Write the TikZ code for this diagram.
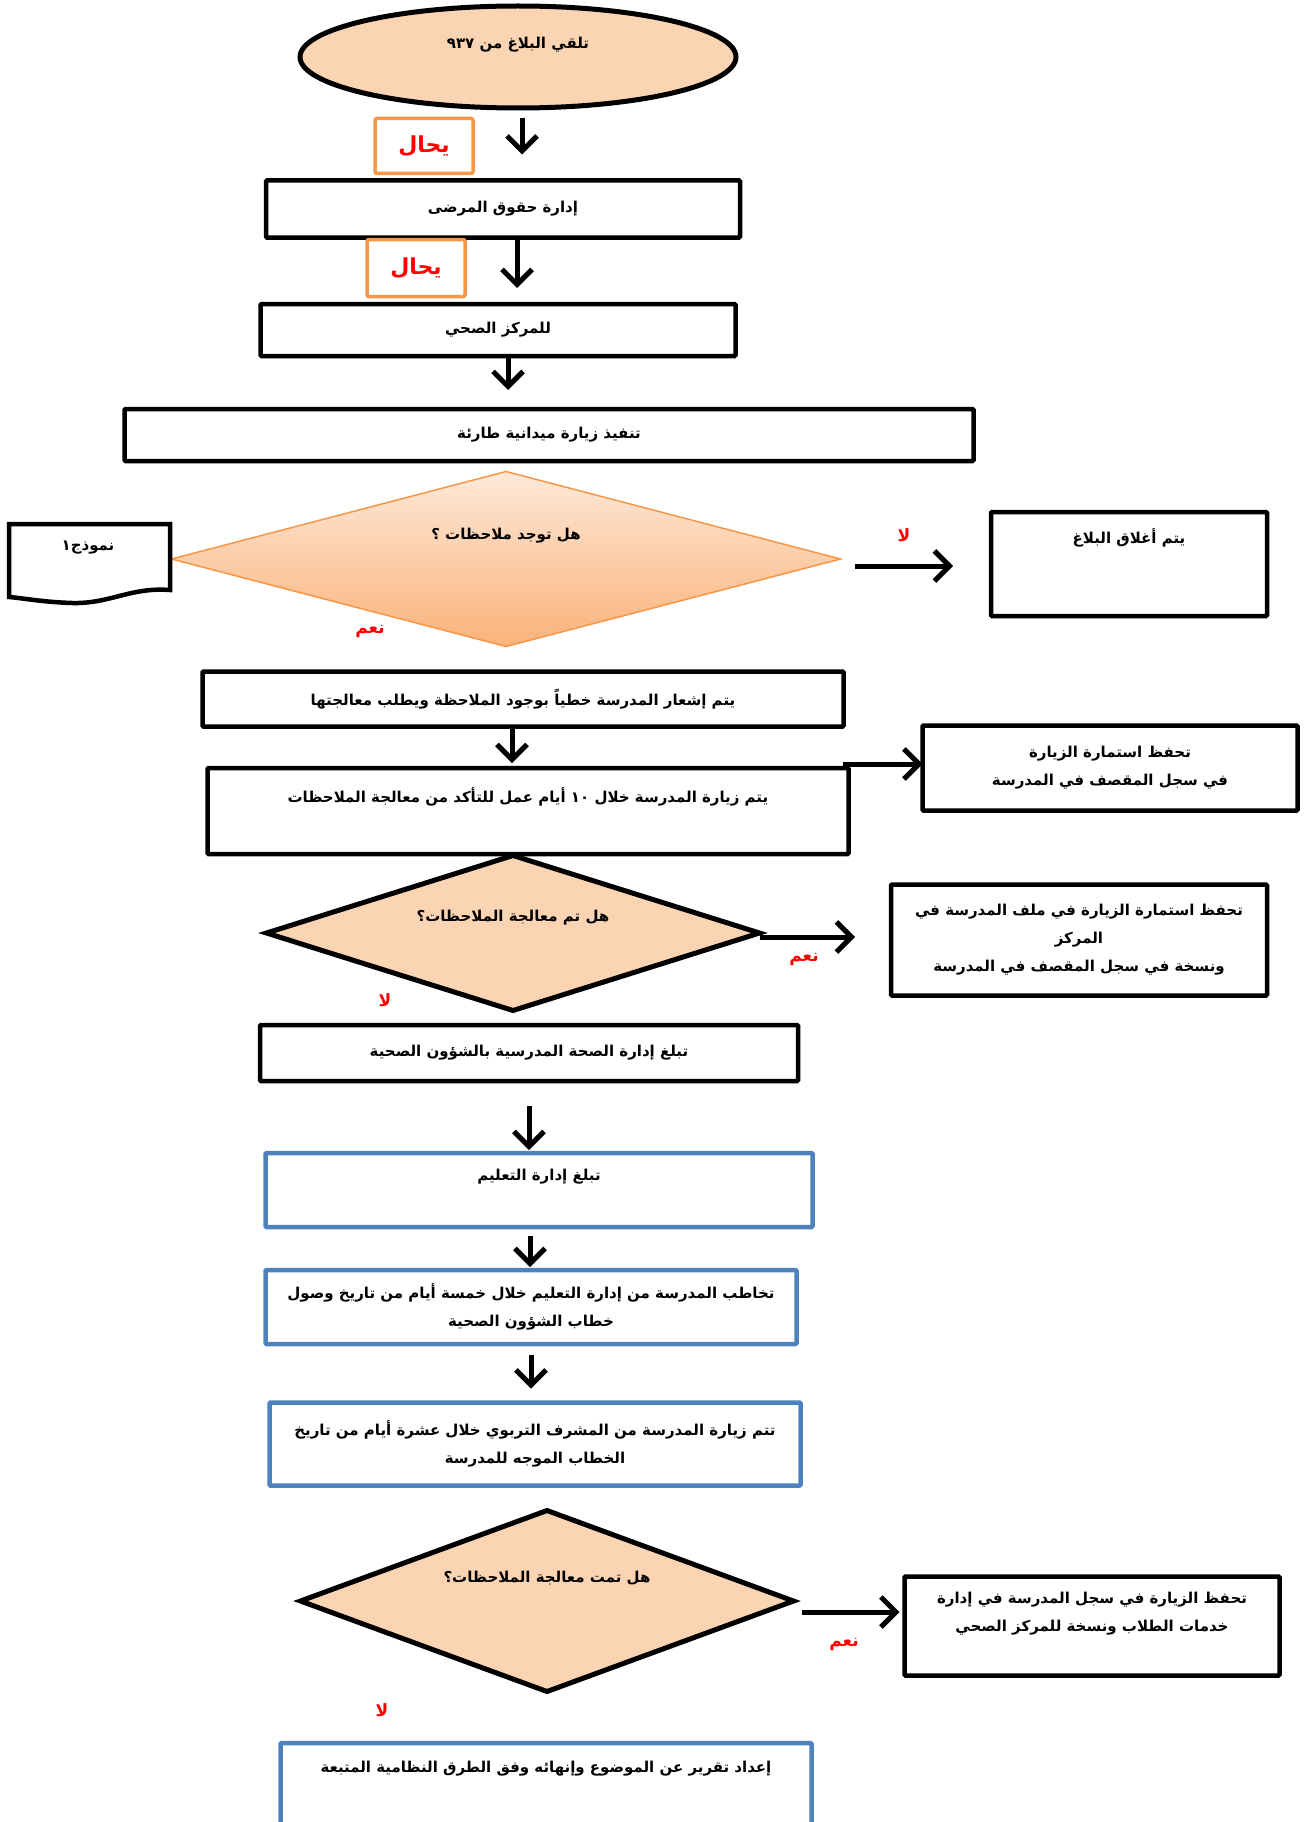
\documentclass[tikz,border=0pt]{standalone}
\usepackage{fontspec}
\newfontfamily\arabicfont[Script=Arabic]{DejaVu Sans}
\TeXXeTstate=1
\usetikzlibrary{shapes.geometric, arrows.meta, positioning}
\definecolor{peach}{HTML}{FBD4B4}
\definecolor{peachlight}{HTML}{FDE9D9}
\definecolor{peachdark}{HTML}{FAB27A}
\definecolor{orangeline}{HTML}{F79646}
\definecolor{blueline}{HTML}{4F81BD}
\newcommand{\artext}[1]{\beginR #1\endR}

\begin{document}
\begin{tikzpicture}[x=1pt, y=-1pt,
    every node/.style={font=\arabicfont\bfseries\fontsize{15}{28}\selectfont, inner sep=0, outer sep=0, align=center},
    blackbox/.style={draw=black, line width=4.5pt, rounded corners=1pt},
    bluebox/.style={draw=blueline, line width=4.5pt, rounded corners=1pt},
    referbox/.style={draw=orangeline, line width=3.5pt, rounded corners=2pt, text=red, font=\arabicfont\bfseries\fontsize{22}{24}\selectfont},
    decision/.style={diamond, draw=black, line width=5pt, fill=peach},
    flow/.style={line width=5pt, -{Straight Barb[length=15pt, width=30pt]}},
    answer/.style={text=red, font=\arabicfont\bfseries\fontsize{17}{18}\selectfont}]
  \useasboundingbox (0,0) rectangle (1313,1822);
  % top part
  \node[ellipse, draw, line width=5pt, fill=peach, minimum width=436, minimum height=102] (E) at (518,57) {};
  \node (Et) at ([yshift=12pt]E.center) {\artext{تلقي البلاغ من \beginL ٩٣٧\endL}};
  \node[blackbox, minimum width=474, minimum height=57] (B1) at (503,209) {\artext{إدارة حقوق المرضى}};
  \node[referbox, minimum width=98, minimum height=55] (R1) at (424,146) {\artext{يحال}};
  \node[blackbox, minimum width=475, minimum height=52] (B2) at (498,330) {\artext{للمركز الصحي}};
  \node[referbox, minimum width=98, minimum height=57] (R2) at (416,268) {\artext{يحال}};
  \node[blackbox, minimum width=849, minimum height=52] (B3) at (549,435) {\artext{تنفيذ زيارة ميدانية طارئة}};
  \draw[flow, shorten <=10pt, shorten >=26pt] ([xshift=4pt]E.south) -- ([xshift=4pt]E.south |- B1.north);
  \draw[flow, shorten >=16pt] ([xshift=14pt]B1.south) -- ([xshift=14pt]B1.south |- B2.north);
  \draw[flow, shorten >=19pt] ([xshift=10pt]B2.south) -- ([xshift=10pt]B2.south |- B3.north);
  % first question
  \node[diamond, draw=orangeline, line width=1.5pt, top color=peachlight, bottom color=peachdark, minimum width=669, minimum height=175] (D1) at (506,559) {};
  \node (D1t) at ([yshift=23pt]D1.center) {\artext{هل توجد ملاحظات ؟}};
  \draw[line width=4.5pt, fill=white] (9,524) -- (170,524) -- (170,590) .. controls (130,587) and (110,604) .. (72,603) .. controls (42,602) and (22,598) .. (9,597) -- cycle;
  \node (F1) at (88,548) {\artext{نموذج١}};
  \node[blackbox, minimum width=276, minimum height=104] (C) at (1129,564) {};
  \node (Ct) at ([yshift=26pt]C.center) {\artext{يتم أغلاق البلاغ}};
  \draw[flow, shorten <=14pt, shorten >=38pt] ([yshift=-7pt]D1.east) -- ([yshift=-7pt]D1.east -| C.west);
  \node[answer] (L1) at (904,535) {\artext{لا}};
  \node[answer] (Y1) at (370,631) {\artext{نعم}};
  % notify school
  \node[blackbox, minimum width=641, minimum height=55] (B4) at (523,699) {\artext{يتم إشعار المدرسة خطياً بوجود الملاحظة ويطلب معالجتها}};
  \node[blackbox, minimum width=641, minimum height=86] (B5) at (528,811) {};
  \node (B5t) at ([yshift=14pt]B5.center) {\artext{يتم زيارة المدرسة خلال \beginL ١٠\endL{} أيام عمل للتأكد من معالجة الملاحظات}};
  \draw[flow, shorten >=5pt] ([xshift=-11pt]B4.south) -- ([xshift=-11pt]B4.south |- B5.north);
  \node[blackbox, minimum width=375, minimum height=85] (K1) at (1110,768) {\artext{تحفظ استمارة الزيارة}\\\artext{في سجل المقصف في المدرسة}};
  \draw[flow] ([xshift=-6pt, yshift=4pt]B5.north east) -- ([yshift=4pt]B5.north east -| K1.west);
  % second question
  \node[decision, minimum width=493, minimum height=155] (D2) at (513,933) {};
  \node (D2t) at ([yshift=15pt]D2.center) {\artext{هل تم معالجة الملاحظات؟}};
  \node[blackbox, minimum width=376, minimum height=111] (K2) at (1079,940) {\artext{تحفظ استمارة الزيارة في ملف المدرسة في}\\\artext{المركز}\\\artext{ونسخة في سجل المقصف في المدرسة}};
  \draw[flow, shorten >=36pt] ([yshift=-4pt]D2.east) -- ([yshift=-4pt]D2.east -| K2.west);
  \node[answer] (Y2) at (804,959) {\artext{نعم}};
  \node[answer] (L2) at (385,1000) {\artext{لا}};
  \node[blackbox, minimum width=538, minimum height=56] (B6) at (529,1053) {\artext{تبلغ إدارة الصحة المدرسية بالشؤون الصحية}};
  % education department
  \node[bluebox, minimum width=547, minimum height=74] (B7) at (539,1190) {};
  \node (B7t) at ([yshift=13pt]B7.center) {\artext{تبلغ إدارة التعليم}};
  \node[bluebox, minimum width=531, minimum height=74] (B8) at (531,1307) {\artext{تخاطب المدرسة من إدارة التعليم خلال خمسة أيام من تاريخ وصول}\\\artext{خطاب الشؤون الصحية}};
  \node[bluebox, minimum width=531, minimum height=83] (B9) at (535,1444) {\artext{تتم زيارة المدرسة من المشرف التربوي خلال عشرة أيام من تاريخ}\\\artext{الخطاب الموجه للمدرسة}};
  \draw[flow, shorten <=25pt, shorten >=3pt] (B6.south) -- (B6.south |- B7.north);
  \draw[flow, shorten <=9pt, shorten >=3pt] ([xshift=-9pt]B7.south) -- ([xshift=-9pt]B7.south |- B8.north);
  \draw[flow, shorten <=11pt, shorten >=14pt] (B8.south) -- (B8.south |- B9.north);
  % third question
  \node[decision, minimum width=493, minimum height=181] (D3) at (547,1601) {};
  \node (D3t) at ([yshift=23pt]D3.center) {\artext{هل تمت معالجة الملاحظات؟}};
  \node[blackbox, minimum width=375, minimum height=99] (K3) at (1092,1626) {};
  \node (K3t) at ([yshift=12pt]K3.center) {\artext{تحفظ الزيارة في سجل المدرسة في إدارة}\\\artext{خدمات الطلاب ونسخة للمركز الصحي}};
  \draw[flow, shorten <=8pt, shorten >=5pt] ([yshift=-11pt]D3.east) -- ([yshift=-11pt]D3.east -| K3.west);
  \node[answer] (Y3) at (844,1644) {\artext{نعم}};
  \node[answer] (L3) at (382,1710) {\artext{لا}};
  \node[bluebox, minimum width=531, minimum height=114] (B10) at (546,1800) {};
  \node (B10t) at ([yshift=-26pt]B10.north) {\artext{إعداد تقرير عن الموضوع وإنهائه وفق الطرق النظامية المتبعة}};
\end{tikzpicture}
\end{document}
